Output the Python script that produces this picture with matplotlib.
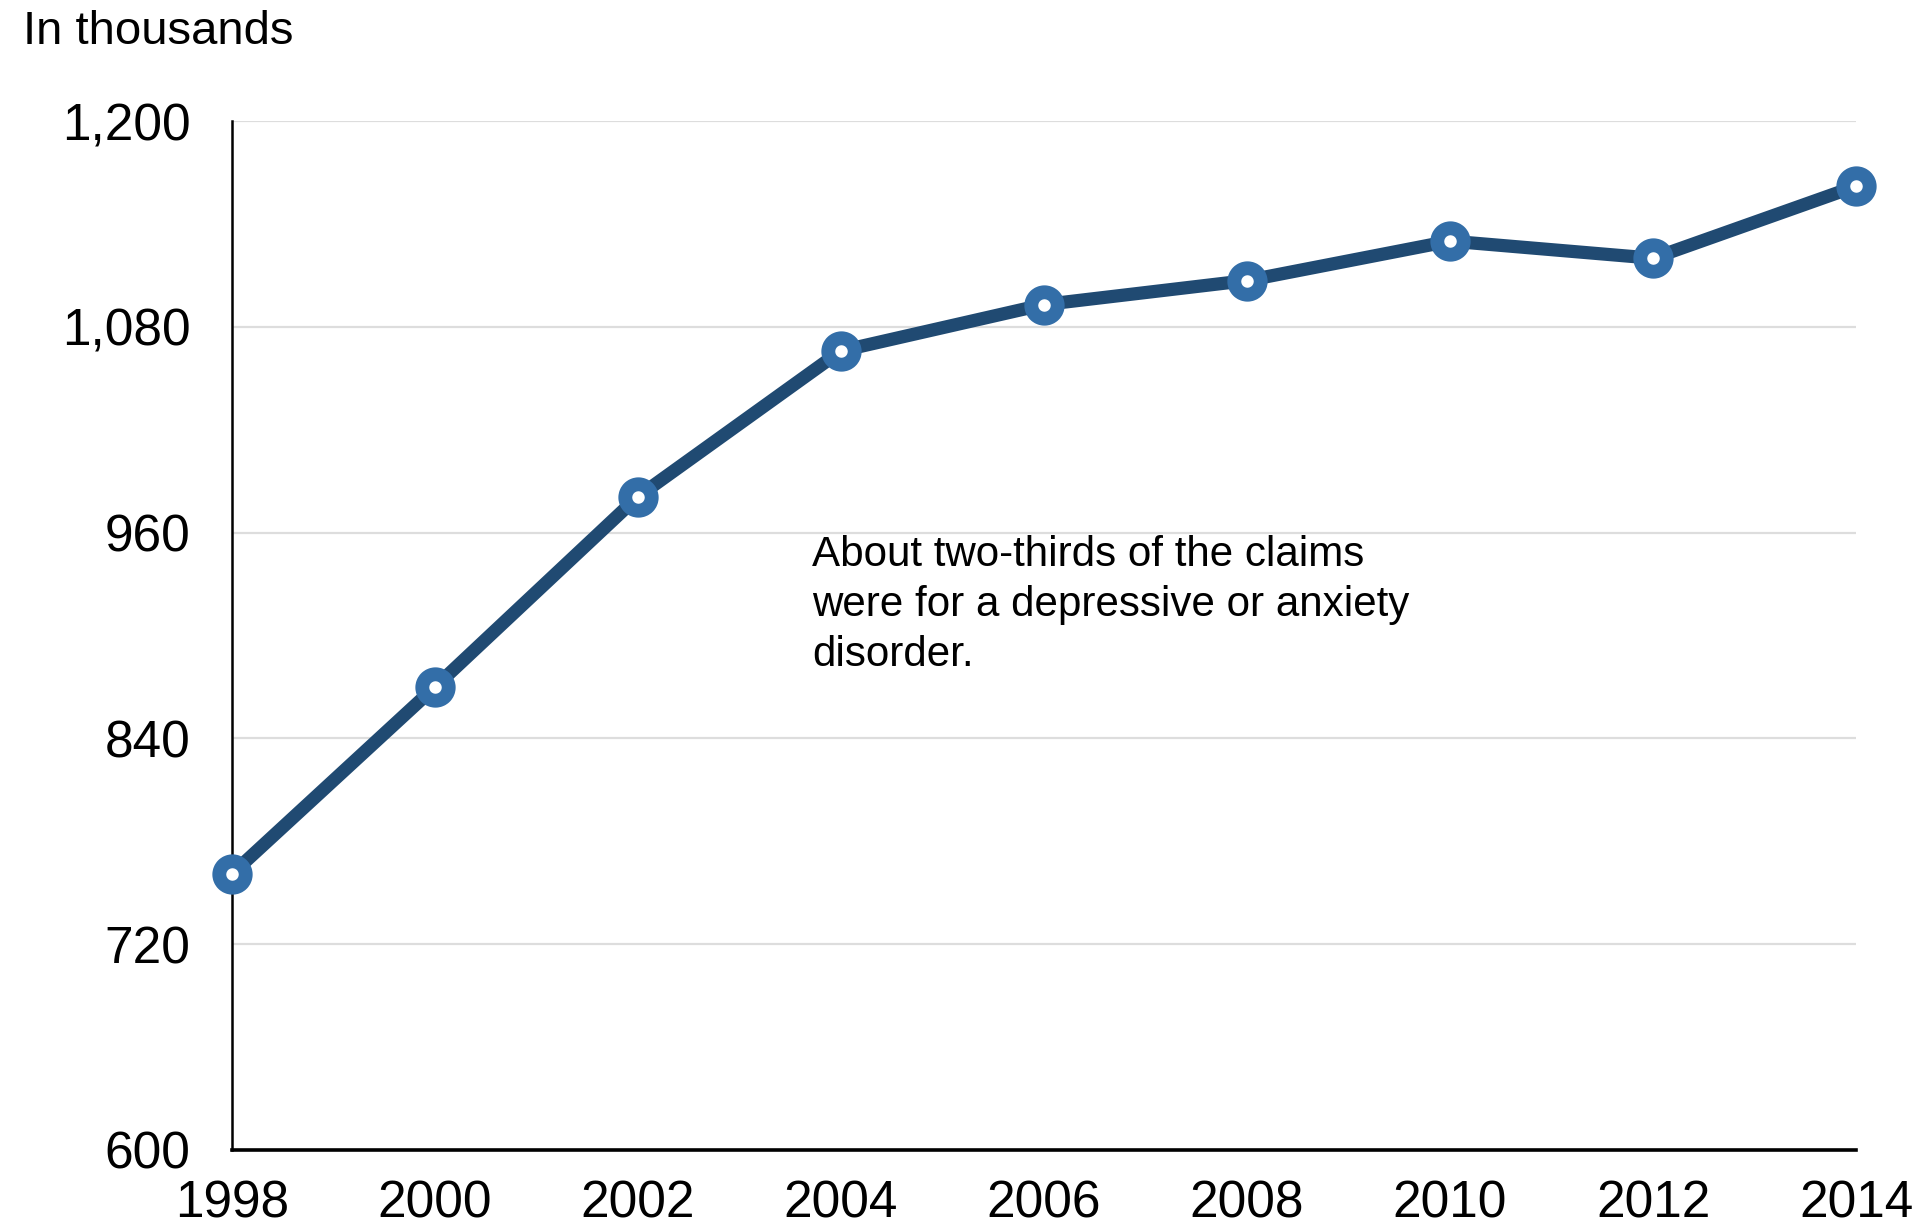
import matplotlib
matplotlib.use("Agg")
import matplotlib.pyplot as plt

years = [1998, 2000, 2002, 2004, 2006, 2008, 2010, 2012, 2014]
claims = [761, 870, 981, 1066, 1093, 1107, 1130, 1120, 1162]
y_ticks = [600, 720, 840, 960, 1080, 1200]
y_tick_labels = ["600", "720", "840", "960", "1,080", "1,200"]
x_ticks = years
x_tick_labels = [str(y) for y in years]

plt.rcParams["font.family"] = ["Liberation Sans", "DejaVu Sans"]

fig = plt.figure(figsize=(19.25, 12.29), dpi=100)
ax = fig.add_axes([0.1205, 0.0643, 0.9642 - 0.1205, 0.9015 - 0.0643])

line_color = "#204a72"
marker_color = "#336ea8"

ax.plot(years, claims, color=line_color, linewidth=9.5, solid_capstyle="butt",
        zorder=3, clip_on=False)
ax.plot(years, claims, linestyle="none", marker="o", markersize=19,
        markerfacecolor="white", markeredgecolor=marker_color,
        markeredgewidth=10, zorder=4, clip_on=False)

ax.set_xlim(1998, 2014)
ax.set_ylim(600, 1200)
ax.set_yticks(y_ticks)
ax.set_yticklabels(y_tick_labels)
ax.set_xticks(x_ticks)
ax.set_xticklabels(x_tick_labels)
ax.tick_params(axis="both", length=0, labelsize=37, colors="black")
ax.tick_params(axis="y", pad=30)
ax.tick_params(axis="x", pad=21)

ax.yaxis.grid(True, color="#dddddd", linewidth=1.6)
ax.set_axisbelow(True)

for side in ("top", "right"):
    ax.spines[side].set_visible(False)
ax.spines["left"].set_linewidth(1.8)
ax.spines["bottom"].set_linewidth(2.6)
ax.spines["left"].set_color("black")
ax.spines["bottom"].set_color("black")

fig.text(23 / 1925, 1 - 44 / 1229, "In thousands", fontsize=34,
         ha="left", va="baseline")

ax.text(812 / 1925, 1 - 666 / 1229,
        "About two-thirds of the claims\nwere for a depressive or anxiety\ndisorder.",
        transform=fig.transFigure, fontsize=30.3, ha="left", va="baseline",
        linespacing=1.33)

fig.savefig("out.png", dpi=100, facecolor="white")
